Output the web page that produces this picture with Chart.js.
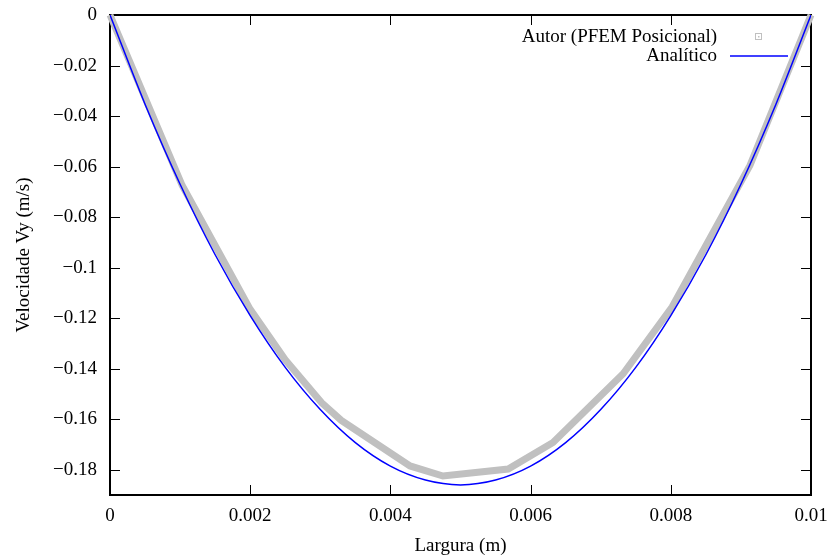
<!DOCTYPE html>
<html>
<head>
<meta charset="utf-8">
<script src="https://cdn.jsdelivr.net/npm/chart.js@4"></script>
<style>
  html, body { margin: 0; padding: 0; background: #fff; }
  #wrap { width: 831px; height: 557px; }
</style>
</head>
<body>
<div id="wrap"><canvas id="chart"></canvas></div>
<script>
const xTicks = [0, 0.002, 0.004, 0.006, 0.008, 0.01];
const yTicks = [0, -0.02, -0.04, -0.06, -0.08, -0.1, -0.12, -0.14, -0.16, -0.18];

// Autor (PFEM Posicional) - at the visible kinks
const pfemX = [0, 0.00103, 0.0020, 0.0025, 0.00302, 0.0033, 0.00428, 0.00475, 0.00568, 0.00632, 0.00732, 0.00802, 0.00913, 0.01];
const pfemV = [0, -0.0675, -0.1165, -0.1365, -0.1535, -0.1605, -0.1785, -0.1825, -0.1797, -0.1692, -0.1420, -0.1155, -0.0595, 0];

// Analitico
const analX = [0, 0.0005, 0.001, 0.0015, 0.002, 0.0025, 0.003, 0.0035, 0.004, 0.0045, 0.005,
               0.0055, 0.006, 0.0065, 0.007, 0.0075, 0.008, 0.0085, 0.009, 0.0095, 0.01];
const analV = [0, -0.0353, -0.0670, -0.0949, -0.1190, -0.1395, -0.1562, -0.1693, -0.1786, -0.1841, -0.1860,
               -0.1841, -0.1786, -0.1693, -0.1562, -0.1395, -0.1190, -0.0949, -0.0670, -0.0353, 0];

const FONT = '"Liberation Serif", "Times New Roman", serif';

function toPoints(xs, ys) {
  return xs.map((x, i) => ({ x: x, y: ys[i] }));
}

function fmt(v) {
  return String(v).replace('-', '\u2212');
}

// gnuplot-like frame with inward ticks on all four sides, plus its key
const framePlugin = {
  id: 'frame',
  beforeDatasetsDraw(chart) {
    const { ctx, chartArea: a, scales } = chart;
    ctx.save();
    ctx.strokeStyle = '#000';
    ctx.lineWidth = 1;
    const tl = 10;
    ctx.beginPath();
    xTicks.forEach(v => {
      const px = Math.round(scales.x.getPixelForValue(v)) + 0.5;
      ctx.moveTo(px, a.bottom); ctx.lineTo(px, a.bottom - tl);
      ctx.moveTo(px, a.top); ctx.lineTo(px, a.top + tl);
    });
    yTicks.forEach(v => {
      const py = Math.round(scales.y.getPixelForValue(v)) + 0.5;
      ctx.moveTo(a.left, py); ctx.lineTo(a.left + tl, py);
      ctx.moveTo(a.right, py); ctx.lineTo(a.right - tl, py);
    });
    ctx.stroke();
    ctx.lineWidth = 2;
    ctx.strokeRect(a.left, a.top, a.right - a.left, a.bottom - a.top);
    ctx.restore();
  },
  afterDraw(chart) {
    const { ctx } = chart;
    const ds = chart.data.datasets;
    ctx.save();
    ctx.font = '19px ' + FONT;
    ctx.fillStyle = '#000';
    ctx.textAlign = 'right';
    ctx.textBaseline = 'middle';
    const textRight = 717;
    const rows = [37, 56];
    ds.forEach((d, i) => {
      const y = rows[i];
      ctx.fillText(d.label, textRight, y);
      if (i === 0) {
        ctx.strokeStyle = d.borderColor;
        ctx.lineWidth = 1;
        ctx.strokeRect(755.5, y - 3.5, 6, 6);
        ctx.fillStyle = d.borderColor;
        ctx.fillRect(758, y - 1, 1.5, 1.5);
        ctx.fillStyle = '#000';
      } else {
        ctx.strokeStyle = d.borderColor;
        ctx.lineWidth = d.borderWidth;
        ctx.beginPath();
        ctx.moveTo(730, y);
        ctx.lineTo(788, y);
        ctx.stroke();
      }
    });
    ctx.restore();
  }
};

const ctx = document.getElementById('chart').getContext('2d');
new Chart(ctx, {
  type: 'scatter',
  data: {
    datasets: [
      {
        label: 'Autor (PFEM Posicional)',
        data: toPoints(pfemX, pfemV),
        showLine: true,
        borderColor: '#c0c0c0',
        backgroundColor: '#c0c0c0',
        borderWidth: 7,
        pointRadius: 0,
        tension: 0,
        clip: false,
        order: 2
      },
      {
        label: 'Anal\u00edtico',
        data: toPoints(analX, analV),
        showLine: true,
        borderColor: '#0000ff',
        backgroundColor: '#0000ff',
        borderWidth: 1.5,
        pointRadius: 0,
        cubicInterpolationMode: 'monotone',
        order: 1
      }
    ]
  },
  options: {
    responsive: true,
    maintainAspectRatio: false,
    animation: false,
    layout: { padding: { top: 15, right: 20, left: 0, bottom: 0 } },
    plugins: { legend: { display: false }, tooltip: { enabled: false } },
    scales: {
      x: {
        type: 'linear',
        min: 0,
        max: 0.01,
        afterBuildTicks: s => { s.ticks = xTicks.map(v => ({ value: v })); },
        afterFit: s => { s.height = 62; s.paddingLeft = 0; s.paddingRight = 0; },
        grid: { display: false, drawTicks: false },
        border: { display: false },
        ticks: {
          maxRotation: 0,
          padding: 10,
          color: '#000',
          font: { family: FONT, size: 19 },
          callback: v => fmt(v)
        },
        title: {
          display: true,
          text: 'Largura (m)',
          color: '#000',
          font: { family: FONT, size: 19 },
          padding: { top: 0, bottom: 0 }
        }
      },
      y: {
        type: 'linear',
        min: -0.19,
        max: 0,
        afterBuildTicks: s => { s.ticks = yTicks.map(v => ({ value: v })); },
        afterFit: s => { s.width = 110; s.paddingTop = 0; s.paddingBottom = 0; },
        grid: { display: false, drawTicks: false },
        border: { display: false },
        ticks: {
          padding: 13,
          color: '#000',
          font: { family: FONT, size: 19 },
          callback: v => fmt(v)
        },
        title: {
          display: true,
          text: 'Velocidade Vy (m/s)',
          color: '#000',
          font: { family: FONT, size: 19 },
          padding: { top: 13, bottom: 0 }
        }
      }
    }
  },
  plugins: [framePlugin]
});
</script>
</body>
</html>
